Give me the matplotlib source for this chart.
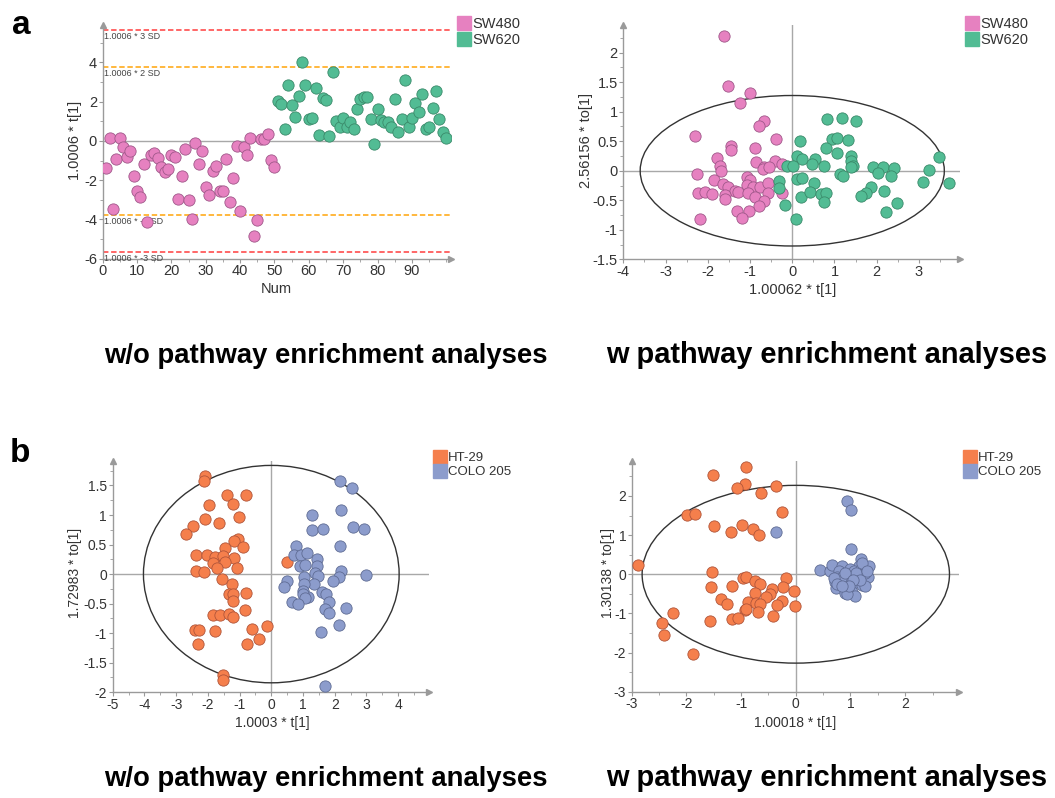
import numpy as np
import matplotlib
matplotlib.use('Agg')
from matplotlib import pyplot as plt
from matplotlib.patches import Ellipse
from matplotlib.lines import Line2D
from matplotlib.ticker import MultipleLocator, FixedLocator

plt.rcParams['font.family'] = ['Liberation Sans', 'DejaVu Sans']
plt.rcParams['axes.unicode_minus'] = False

# ---------------- panel a, left: score plot t[1] vs sample number ----------------
num = np.arange(1, 101)
t1_sw = [-1.38, 0.17, -3.49, -0.94, 0.17, -0.31, -0.83, -0.53, -1.77, -2.57,
         -2.87, -1.19, -4.12, -0.71, -0.61, -0.87, -1.33, -1.56, -1.45, -0.73,
         -0.82, -2.94, -1.80, -0.43, -3.03, -3.98, -0.09, -1.17, -0.54, -2.33,
         -2.76, -1.53, -1.29, -2.55, -2.55, -0.92, -3.11, -1.87, -0.27, -3.59,
         -0.31, -0.71, 0.17, -4.83, -4.01, 0.10, 0.07, 0.34, -0.99, -1.31,
         2.01, 1.89, 0.61, 2.84, 1.84, 1.24, 2.26, 4.00, 2.82, 1.11,
         1.14, 2.70, 0.32, 2.18, 2.06, 0.24, 3.52, 1.02, 0.70, 1.14,
         0.70, 0.95, 0.60, 1.63, 2.11, 2.23, 2.24, 1.11, -0.14, 1.63,
         1.05, 0.97, 0.94, 0.71, 2.11, 0.44, 1.09, 3.10, 0.71, 1.17,
         1.92, 1.45, 2.41, 0.58, 0.70, 1.68, 2.55, 1.12, 0.46, 0.17]
sd_levels = [5.65, 3.76, -3.77, -5.64]
sd_labels = ['1.0006 * 3 SD', '1.0006 * 2 SD', '1.0006 * -2 SD', '1.0006 * -3 SD']

# ---------------- panel a, right: OPLS t[1] vs to[1] ----------------
sw480_t = [-1.62, -1.51, -0.99, -1.24, -0.67, -0.78, -2.31, -0.38, -1.46, -1.45,
           -0.88, -1.77, -0.86, -0.42, -0.25, -1.71, -1.68, -0.68, -0.70, -0.54,
           -2.25, -1.85, -1.65, -1.52, -1.08, -1.00, -1.08, -1.36, -0.94, -0.77,
           -0.57, -2.22, -2.07, -1.90, -1.59, -1.60, -1.28, -1.04, -0.89, -0.58,
           -0.25, -0.68, -0.79, -1.31, -1.03, -1.18, -2.18]
sw480_to = [2.29, 1.44, 1.31, 1.14, 0.85, 0.75, 0.59, 0.54, 0.42, 0.36,
            0.38, 0.21, 0.14, 0.16, 0.12, 0.08, 0.00, 0.06, 0.03, 0.07,
            -0.06, -0.15, -0.23, -0.27, -0.10, -0.16, -0.24, -0.34, -0.27, -0.27,
            -0.20, -0.37, -0.36, -0.40, -0.41, -0.48, -0.36, -0.37, -0.44, -0.38,
            -0.38, -0.52, -0.59, -0.68, -0.69, -0.80, -0.82]
sw620_t = [0.82, 1.18, 1.51, 0.18, 0.94, 1.07, 1.33, 0.80, 1.05, 1.38,
           0.12, 0.24, 0.54, 0.47, 1.38, -0.12, 0.01, 0.74, 1.44, 1.38,
           1.92, 2.14, 2.42, 3.48, 3.24, 2.04, 1.13, 1.21, 2.34, 0.12,
           0.24, -0.31, -0.31, 0.51, 3.09, 3.72, 1.86, 1.74, 1.63, 2.17,
           0.21, 0.42, 0.67, 0.81, 0.75, 2.48, -0.18, 2.22, 0.10]
sw620_to = [0.88, 0.89, 0.85, 0.50, 0.54, 0.56, 0.52, 0.39, 0.30, 0.25,
            0.25, 0.20, 0.20, 0.12, 0.16, 0.08, 0.08, 0.08, 0.08, 0.06,
            0.06, 0.06, 0.05, 0.23, 0.02, -0.04, -0.06, -0.09, -0.09, -0.14,
            -0.12, -0.18, -0.29, -0.20, -0.19, -0.20, -0.27, -0.37, -0.43, -0.35,
            -0.44, -0.36, -0.40, -0.37, -0.53, -0.54, -0.58, -0.70, -0.82]

# ---------------- panel b, left ----------------
ht29_t_a = [-2.09, -2.12, -1.39, -0.81, -1.95, -1.22, -1.01, -2.08, -1.64, -2.47,
            -2.70, -1.04, -1.18, -0.90, -1.45, -2.36, -2.02, -1.78, -1.51, -1.19,
            -1.83, -1.47, -1.72, -1.07, -2.38, -2.11, 0.48, -1.55, -1.25, -1.33,
            -1.21, -1.22, -0.80, -0.83, -1.83, -1.63, -1.34, -1.21, -0.14, -0.62,
            -2.42, -2.29, -1.79, -0.39, -0.76, -2.31, -1.52, -1.53]
ht29_to_a = [1.66, 1.58, 1.34, 1.34, 1.17, 1.18, 0.96, 0.93, 0.87, 0.82,
             0.68, 0.60, 0.56, 0.46, 0.44, 0.33, 0.33, 0.29, 0.30, 0.27,
             0.19, 0.20, 0.10, 0.11, 0.06, 0.03, 0.20, -0.08, -0.17, -0.34,
             -0.34, -0.45, -0.32, -0.60, -0.69, -0.70, -0.67, -0.73, -0.87, -0.93,
             -0.94, -0.95, -0.97, -1.10, -1.18, -1.18, -1.70, -1.80]
colo_t_a = [2.18, 2.53, 2.20, 1.29, 1.28, 1.64, 2.58, 2.92, 0.79, 2.15,
            0.71, 0.95, 1.13, 1.43, 1.45, 0.92, 1.05, 1.38, 2.20, 3.00,
            2.13, 1.46, 1.04, 0.49, 0.40, 1.34, 1.04, 1.93, 1.01, 1.60,
            1.74, 1.17, 1.01, 1.06, 0.66, 0.84, 1.81, 2.36, 1.69, 1.81,
            2.14, 1.57, 1.69]
colo_to_a = [1.58, 1.46, 1.09, 1.00, 0.74, 0.77, 0.79, 0.76, 0.47, 0.48,
             0.33, 0.33, 0.36, 0.25, 0.14, 0.14, 0.16, 0.02, 0.05, -0.01,
             -0.05, -0.03, -0.05, -0.12, -0.22, -0.17, -0.17, -0.12, -0.28, -0.31,
             -0.33, -0.38, -0.34, -0.40, -0.47, -0.51, -0.48, -0.57, -0.59, -0.65,
             -0.86, -0.98, -1.90]

# ---------------- panel b, right ----------------
ht29_t_b = [-0.91, -1.51, -0.92, -1.08, -0.37, -0.63, -1.99, -1.85, -0.26, -1.50,
            -0.98, -0.79, -1.18, -0.68, -2.88, -1.53, -0.96, -0.91, -0.18, -0.75,
            -0.66, -1.55, -1.16, -0.24, -0.04, -0.43, -0.47, -0.74, -0.55, -1.37,
            -1.26, -0.87, -0.73, -0.65, -0.26, -0.35, -0.02, -0.93, -0.91, -0.70,
            -2.25, -0.41, -1.16, -1.05, -1.56, -2.45, -2.41, -1.88]
ht29_to_b = [2.75, 2.53, 2.31, 2.19, 2.26, 2.07, 1.51, 1.54, 1.60, 1.22,
             1.25, 1.15, 1.08, 1.00, 0.23, 0.06, -0.09, -0.08, -0.09, -0.16,
             -0.25, -0.32, -0.29, -0.32, -0.43, -0.38, -0.50, -0.48, -0.57, -0.62,
             -0.76, -0.72, -0.73, -0.76, -0.68, -0.79, -0.82, -0.91, -0.88, -0.96,
             -0.98, -1.06, -1.15, -1.13, -1.19, -1.25, -1.56, -2.04]
colo_t_b = [0.93, 1.01, -0.37, 1.01, 0.45, 0.62, 0.67, 0.84, 0.79, 1.20,
            1.33, 1.16, 0.99, 1.07, 1.20, 1.32, 1.12, 0.97, 0.87, 0.75,
            0.71, 0.73, 0.93, 1.02, 1.21, 1.26, 0.90, 1.02, 1.09, 0.93,
            0.82, 1.27, 1.10, 0.90, 0.69, 1.18, 1.05, 0.98, 1.21, 1.31,
            0.76, 0.84]
colo_to_b = [1.86, 1.63, 1.09, 0.64, 0.11, 0.07, 0.23, 0.20, 0.07, 0.40,
             0.21, 0.20, 0.13, 0.09, 0.13, -0.08, -0.09, -0.06, -0.08, -0.06,
             -0.21, -0.36, -0.21, -0.25, -0.28, -0.31, -0.47, -0.45, -0.55, -0.50,
             -0.10, 0.03, 0.03, 0.03, -0.10, -0.14, -0.14, -0.31, 0.28, 0.07,
             -0.25, -0.31]

pink, pink_e = '#e681c0', '#a0588a'
green, green_e = '#52bc94', '#3a8a6a'
orange, orange_e = '#f57f4c', '#b0553a'
blue, blue_e = '#8c9ccc', '#5f6c94'
axgray = '#9a9a9a'
txtgray = '#333333'
msize = 66

fig = plt.figure(figsize=(10.55, 7.98), dpi=100)

ax1 = fig.add_axes([0.0973, 0.6758, 0.330, 0.2929])
ax2 = fig.add_axes([0.5908, 0.6751, 0.3191, 0.2936])
ax3 = fig.add_axes([0.1068, 0.1325, 0.3001, 0.2902])
ax4 = fig.add_axes([0.5988, 0.1332, 0.3105, 0.2895])


def style_axis(ax, xmaj, xmin, ymaj, ymin, fs):
    ax.spines.right.set_visible(False)
    ax.spines.top.set_visible(False)
    for s in ['left', 'bottom']:
        ax.spines[s].set_color(axgray)
        ax.spines[s].set_linewidth(1)
    ax.xaxis.set_major_locator(MultipleLocator(xmaj))
    ax.xaxis.set_minor_locator(MultipleLocator(xmin))
    ax.yaxis.set_major_locator(MultipleLocator(ymaj))
    ax.yaxis.set_minor_locator(MultipleLocator(ymin))
    ax.xaxis.set_major_formatter(fmt)
    ax.yaxis.set_major_formatter(fmt)
    ax.tick_params(which='major', length=3, color=axgray, labelsize=fs,
                   labelcolor=txtgray, pad=1)
    ax.tick_params(which='minor', length=2, color=axgray)
    # arrow heads at the end of each axis
    ax.plot(1, 0, '>', color=axgray, ms=5, transform=ax.transAxes, clip_on=False)
    ax.plot(0, 1, '^', color=axgray, ms=5, transform=ax.transAxes, clip_on=False)


def fmt(v, pos):
    return '%g' % v


# ---- a left ----
n_sw = 50
ax1.axhline(0, color='#a8a8a8', lw=1, zorder=1)
sd_cols = ['#ff5a5a', '#ffb22e', '#ffb22e', '#ff5a5a']
for lev, lab, c in zip(sd_levels, sd_labels, sd_cols):
    ax1.axhline(lev, color=c, ls='--', lw=1.3, dashes=(3, 1.5), zorder=1)
    ax1.text(0.5, lev - 0.12, lab, fontsize=6.5, color='#444444', va='top', ha='left')
ax1.scatter(num[:n_sw], t1_sw[:n_sw], s=msize, c=pink, edgecolors=pink_e, linewidths=0.6, zorder=3)
ax1.scatter(num[n_sw:], t1_sw[n_sw:], s=msize, c=green, edgecolors=green_e, linewidths=0.6, zorder=3)
ax1.set_xlim(0, 101.3)
ax1.set_ylim(-6, 5.9)
style_axis(ax1, 10, 5, 2, 1, 10.5)
ax1.xaxis.set_major_locator(FixedLocator(np.arange(0, 91, 10)))
ax1.set_xlabel('Num', fontsize=10.5, color=txtgray, va='center')
ax1.xaxis.set_label_coords(0.4996, -0.13)
ax1.set_ylabel('1.0006 * t[1]', fontsize=10.5, color=txtgray, va='center')
ax1.yaxis.set_label_coords(-0.0795, 0.508)

# ---- a right ----
ax2.axhline(0, color='#a8a8a8', lw=1, zorder=1)
ax2.axvline(0, color='#a8a8a8', lw=1, zorder=1)
ax2.add_patch(Ellipse((0, 0), 2 * 3.6, 2 * 1.275, fill=False, ec='#333333', lw=1, zorder=2))
ax2.scatter(sw480_t, sw480_to, s=msize, c=pink, edgecolors=pink_e, linewidths=0.6, zorder=3)
ax2.scatter(sw620_t, sw620_to, s=msize, c=green, edgecolors=green_e, linewidths=0.6, zorder=3)
ax2.set_xlim(-4, 3.97)
ax2.set_ylim(-1.5, 2.47)
style_axis(ax2, 1, 0.5, 0.5, 0.25, 10.5)
ax2.set_xlabel('1.00062 * t[1]', fontsize=10.5, color=txtgray, va='center')
ax2.xaxis.set_label_coords(0.504, -0.131)
ax2.set_ylabel('2.56156 * to[1]', fontsize=10.5, color=txtgray, va='center')
ax2.yaxis.set_label_coords(-0.111, 0.509)

# ---- b left ----
ax3.axhline(0, color='#a8a8a8', lw=1, zorder=1)
ax3.axvline(0, color='#a8a8a8', lw=1, zorder=1)
ax3.add_patch(Ellipse((0, 0), 2 * 4.03, 2 * 1.84, fill=False, ec='#333333', lw=1, zorder=2))
ax3.scatter(ht29_t_a, ht29_to_a, s=msize, c=orange, edgecolors=orange_e, linewidths=0.6, zorder=3)
ax3.scatter(colo_t_a, colo_to_a, s=msize, c=blue, edgecolors=blue_e, linewidths=0.6, zorder=3)
ax3.set_xlim(-5, 4.98)
ax3.set_ylim(-2, 1.92)
style_axis(ax3, 1, 0.5, 0.5, 0.25, 10)
ax3.set_xlabel('1.0003 * t[1]', fontsize=10, color=txtgray, va='center')
ax3.xaxis.set_label_coords(0.503, -0.1326)
ax3.set_ylabel('1.72983 * to[1]', fontsize=10, color=txtgray, va='center')
ax3.yaxis.set_label_coords(-0.119, 0.515)

# ---- b right ----
ax4.axhline(0, color='#a8a8a8', lw=1, zorder=1)
ax4.axvline(0, color='#a8a8a8', lw=1, zorder=1)
ax4.add_patch(Ellipse((0, 0), 2 * 2.81, 2 * 2.27, fill=False, ec='#333333', lw=1, zorder=2))
ax4.scatter(ht29_t_b, ht29_to_b, s=msize, c=orange, edgecolors=orange_e, linewidths=0.6, zorder=3)
ax4.scatter(colo_t_b, colo_to_b, s=msize, c=blue, edgecolors=blue_e, linewidths=0.6, zorder=3)
ax4.set_xlim(-3, 2.99)
ax4.set_ylim(-3, 2.9)
style_axis(ax4, 1, 0.5, 1, 0.5, 10)
ax4.set_xlabel('1.00018 * t[1]', fontsize=10, color=txtgray, va='center')
ax4.xaxis.set_label_coords(0.498, -0.1355)
ax4.set_ylabel('1.30138 * to[1]', fontsize=10, color=txtgray, va='center')
ax4.yaxis.set_label_coords(-0.072, 0.514)


# legends
def sq(c):
    return Line2D([], [], ls='', marker='s', ms=9.5, mfc=c, mec=c)


leg_a = [sq(pink), sq(green)]
leg_b = [sq(orange), sq(blue)]
for ax, handles, labels, xy, fs in [
        (ax1, leg_a, ['SW480', 'SW620'], (458 / 1055, 1 - 17 / 798), 10.5),
        (ax2, leg_a, ['SW480', 'SW620'], (966 / 1055, 1 - 17 / 798), 10.5),
        (ax3, leg_b, ['HT-29', 'COLO 205'], (435 / 1055, 1 - 452 / 798), 9.5),
        (ax4, leg_b, ['HT-29', 'COLO 205'], (965 / 1055, 1 - 452 / 798), 9.5)]:
    lg = ax.legend(handles, labels, loc='upper left', bbox_to_anchor=xy,
                   bbox_transform=fig.transFigure, frameon=False, fontsize=fs,
                   borderpad=0, borderaxespad=0, handlelength=0.8,
                   handletextpad=0.15, labelspacing=0.15)
    for t in lg.get_texts():
        t.set_color(txtgray)

# panel letters and captions
fig.text(12 / 1055, 1 - 34 / 798, 'a', fontsize=24, fontweight='bold', va='baseline')
fig.text(10 / 1055, 1 - 462 / 798, 'b', fontsize=24, fontweight='bold', va='baseline')
cap_l = 'w/o pathway enrichment analyses'
cap_r = 'w pathway enrichment analyses'
for y in [1 - 363 / 798, 1 - 786 / 798]:
    fig.text(326 / 1055, y, cap_l, fontsize=19.8, fontweight='bold', ha='center', va='baseline')
    fig.text(826.5 / 1055, y, cap_r, fontsize=20.9, fontweight='bold', ha='center', va='baseline')

plt.savefig('out.png', dpi=100)
